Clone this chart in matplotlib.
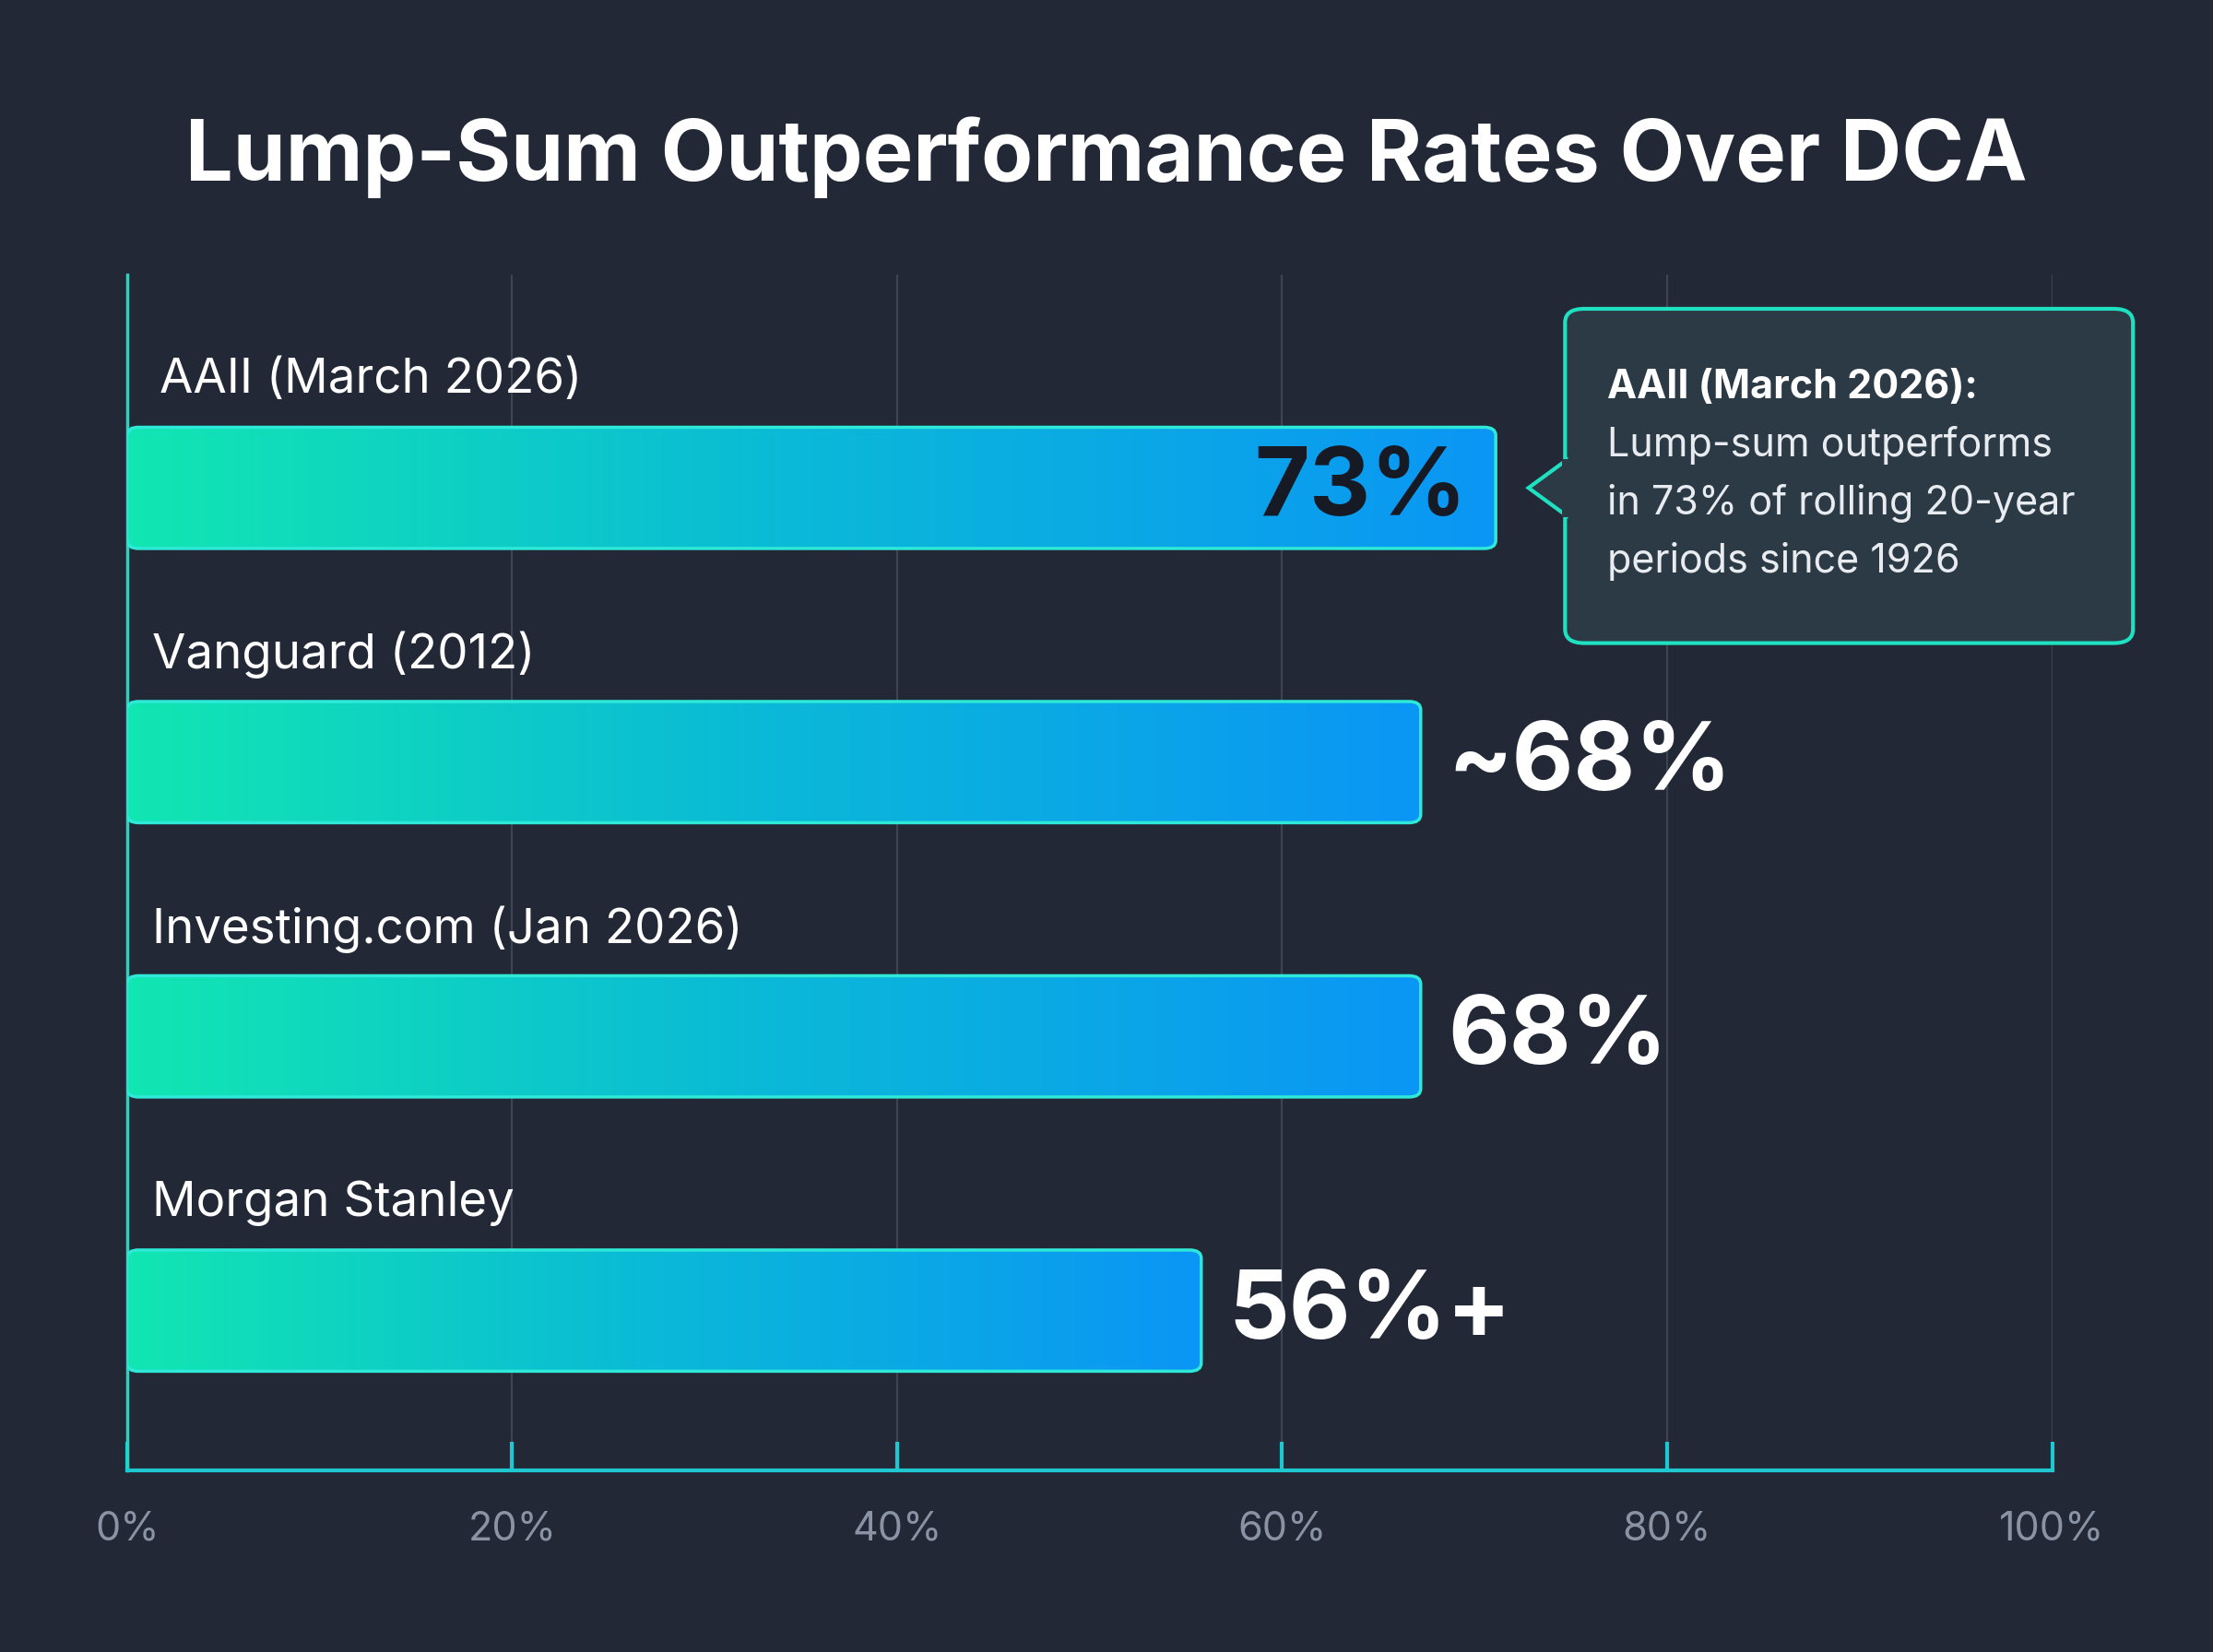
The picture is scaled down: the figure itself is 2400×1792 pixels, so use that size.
import numpy as np
import matplotlib
matplotlib.use("Agg")
import matplotlib.pyplot as plt
from matplotlib.patches import FancyBboxPatch, Polygon
from matplotlib.colors import LinearSegmentedColormap

plt.rcParams['font.family'] = ['Inter', 'DejaVu Sans']

sources = ['AAII (March 2026)', 'Vanguard (2012)', 'Investing.com (Jan 2026)', 'Morgan Stanley']
values = [71.1, 67.2, 67.2, 55.8]
value_labels = ['73%', '~68%', '68%', '56%+']
ticks = [0, 20, 40, 60, 80, 100]
callout_title = 'AAII (March 2026):'
callout_lines = ['Lump-sum outperforms', 'in 73% of rolling 20-year', 'periods since 1926']

BG = '#232836'
fig = plt.figure(figsize=(24, 17.92), dpi=100, facecolor=BG)
ax = fig.add_axes([0.0574, 0.1102, 0.8699, 0.7233])
ax.set_facecolor(BG)
ax.set_xlim(0, 100)
ax.set_ylim(3.581, -0.776)

cmap = LinearSegmentedColormap.from_list('g', ['#12e6b2', '#0ab8d8', '#0a96f5'])
grad = np.linspace(0, 1, 256).reshape(1, -1)
h = 0.442

for x in ticks[1:]:
    ax.axvline(x, color='#3d4453', lw=1.5, zorder=0)

for i, (src, v, lab) in enumerate(zip(sources, values, value_labels)):
    y0 = i - h / 2
    patch = FancyBboxPatch((0, y0), v, h, boxstyle='round,pad=0,rounding_size=0.6',
                           mutation_aspect=0.05, fc='none', ec='#2ee8d8', lw=2.5, zorder=3)
    ax.add_patch(patch)
    im = ax.imshow(grad, cmap=cmap, extent=(0, v, y0 + h, y0), aspect='auto', zorder=2)
    im.set_clip_path(patch)
    ax.text(1.7 if i == 0 else 1.3, y0 - 0.17, src, color='white', fontsize=38, va='center', ha='left')
    if i == 0:
        ax.text(v - 1.5, i + 0.01, lab, color='#161a24', fontsize=74, fontweight='bold',
                va='center', ha='right', zorder=4)
    else:
        ax.text(v + 1.4, i + 0.01, lab, color='white', fontsize=74, fontweight='bold',
                va='center', ha='left', zorder=4)

# callout
box = FancyBboxPatch((74.7, -0.653), 29.5, 1.219, boxstyle='round,pad=0,rounding_size=1',
                     mutation_aspect=0.05, fc='#2c3a45', ec='#1fe0c0', lw=3, zorder=5, clip_on=False)
ax.add_patch(box)
ax.add_patch(Polygon([[74.75, -0.1], [72.8, 0.0], [74.75, 0.1]], closed=True,
                     fc='#2c3a45', ec='#1fe0c0', lw=3, zorder=5, clip_on=False))
ax.plot([74.7, 74.7], [-0.095, 0.095], color='#2c3a45', lw=5, zorder=6, clip_on=False)
ax.text(76.9, -0.365, callout_title, color='white', fontsize=31, fontweight='bold',
        va='center', ha='left', zorder=7)
for k, line in enumerate(callout_lines):
    ax.text(76.9, -0.154 + 0.211 * k, line, color='#e8ecf0', fontsize=31,
            va='center', ha='left', zorder=7)

for s in ['top', 'right']:
    ax.spines[s].set_visible(False)
ax.spines['left'].set_color('#1fd8c0')
ax.spines['left'].set_linewidth(2.5)
ax.spines['bottom'].set_color('#1fc8d0')
ax.spines['bottom'].set_linewidth(3)
ax.set_yticks([])
ax.set_xticks(ticks)
ax.set_xticklabels([f'{t}%' for t in ticks], color='#8a93a3', fontsize=31)
ax.tick_params(axis='x', direction='in', length=22, width=3, color='#1fc8d0', pad=32)

fig.text(0.5, 0.905, 'Lump-Sum Outperformance Rates Over DCA', color='white', fontsize=66,
         fontweight='bold', ha='center', va='center')

fig.savefig('out.png', dpi=100, facecolor=BG)
